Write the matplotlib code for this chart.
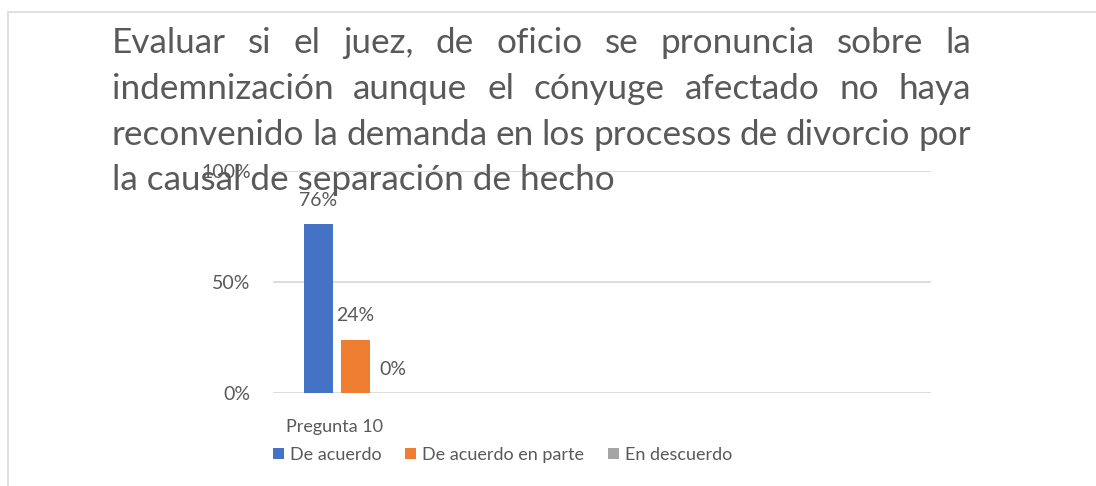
import matplotlib
matplotlib.use("Agg")
import matplotlib.pyplot as plt
import matplotlib.patches as mpatches
import matplotlib.ticker as mticker

W, H = 1096, 486
FONT = "Lato"
GREY_TXT = "#595959"
GRID = "#D9D9D9"

title_lines = [
    "Evaluar si el juez, de oficio se pronuncia sobre la",
    "indemnización aunque el cónyuge afectado no haya",
    "reconvenido la demanda en los procesos de divorcio por",
    "la causal de separación de hecho",
]
category = "Pregunta 10"
series = ["De acuerdo", "De acuerdo en parte", "En descuerdo"]
values = [0.76, 0.24, 0.0]
labels = ["76%", "24%", "0%"]
colors = ["#4472C4", "#ED7D31", "#A5A5A5"]

plt.rcParams["font.family"] = [FONT, "DejaVu Sans"]

fig = plt.figure(figsize=(W / 100, H / 100), dpi=100, facecolor="white")

# light frame of the chart area
fig.patches.append(mpatches.Rectangle((8 / W, -0.05), 1.2, 1 - 12 / H + 0.05,
                                      transform=fig.transFigure, fill=False,
                                      edgecolor=GRID, linewidth=1.2))

# plot area: x 273..931 px, 0% at y=393, 100% at y=171
ax = fig.add_axes([273 / W, (H - 393) / H, (931 - 273) / W, (393 - 171) / H])
bar_step = 37.0  # px between bar centres
xs = [i - 1 for i in range(len(series))]
ax.set_xlim((273 - 355.5) / bar_step, (931 - 355.5) / bar_step)
ax.set_ylim(0, 1)

bars = []
for x, v, c, s in zip(xs, values, colors, series):
    bars.append(ax.bar(x, v, width=29 / bar_step, color=c, label=s, zorder=3))

for x, v, lab in zip(xs, values, labels):
    ax.annotate(lab, (x, v), xytext=(0, 24), textcoords="offset pixels",
                ha="center", va="center", fontsize=14, color=GREY_TXT)

ax.yaxis.set_major_locator(mticker.FixedLocator([0, 0.5, 1.0]))
ax.yaxis.set_major_formatter(mticker.PercentFormatter(1.0, decimals=0))
ax.grid(axis="y", color=GRID, linewidth=1.3, zorder=0)
ax.set_xticks([(335 - 355.5) / bar_step])
ax.set_xticklabels([category])
ax.tick_params(length=0, labelcolor=GREY_TXT)
ax.tick_params(axis="y", pad=16, labelsize=14)
ax.tick_params(axis="x", pad=19, labelsize=13)
for sp in ax.spines.values():
    sp.set_visible(False)

fig.legend(handles=[b[0] for b in bars], labels=series, loc="center left",
           bbox_to_anchor=(273 / W, (H - 455) / H), ncol=3, frameon=False,
           fontsize=13, labelcolor=GREY_TXT, handlelength=0.6,
           handleheight=0.6, handletextpad=0.35, columnspacing=1.3,
           borderpad=0, borderaxespad=0)

# title, justified like the original text box
fig.canvas.draw()
r = fig.canvas.get_renderer()
left_px, right_px = 112, 971
probe = fig.text(0, 0, title_lines[-1], fontsize=20)
w = probe.get_window_extent(r).width
probe.remove()
tsize = 20 * 503 / w
baselines = [53, 99, 145, 190]
for i, (line, yb) in enumerate(zip(title_lines, baselines)):
    y = (H - yb) / H
    if i == len(title_lines) - 1:
        fig.text(left_px / W, y, line, fontsize=tsize, color=GREY_TXT,
                 va="baseline")
        continue
    words = line.split()
    objs = [fig.text(0, y, wd, fontsize=tsize, color=GREY_TXT, va="baseline")
            for wd in words]
    widths = [o.get_window_extent(r).width for o in objs]
    gap = (right_px - left_px - sum(widths)) / (len(words) - 1)
    x = left_px
    for o, wd in zip(objs, widths):
        o.set_x(x / W)
        x += wd + gap

fig.savefig("out.png", dpi=100, facecolor="white")
